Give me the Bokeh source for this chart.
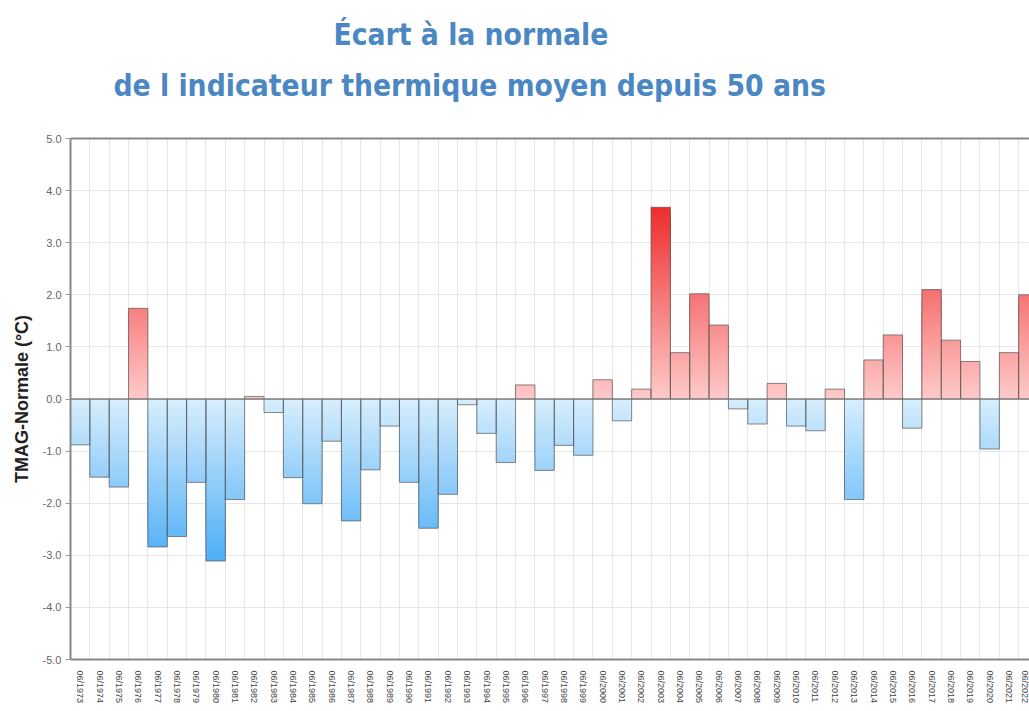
from bokeh.plotting import figure
from bokeh.models import FixedTicker, Title, Span, LinearAxis, Range1d
from bokeh.embed import file_html
from bokeh.resources import INLINE

# ---- data ----
years = list(range(1973, 2023))
tick_labels = [f"06/{y}" for y in years]
anomalies = [-0.88, -1.50, -1.69, 1.74, -2.84, -2.64, -1.60, -3.11, -1.93, 0.05,
             -0.26, -1.51, -2.01, -0.81, -2.34, -1.36, -0.52, -1.60, -2.48, -1.83,
             -0.11, -0.66, -1.22, 0.27, -1.37, -0.89, -1.08, 0.37, -0.42, 0.19,
             3.68, 0.89, 2.02, 1.42, -0.19, -0.48, 0.30, -0.52, -0.61, 0.19,
             -1.93, 0.75, 1.23, -0.56, 2.10, 1.13, 0.72, -0.96, 0.89, 2.00]
y_ticks = [-5, -4, -3, -2, -1, 0, 1, 2, 3, 4, 5]
title_line1 = "Écart à la normale"
title_line2 = "de l indicateur thermique moyen depuis 50 ans"
y_label = "TMAG-Normale (°C)"

# ---- colours ----
RED0, RED1, RMAX = (255, 202, 202), (238, 44, 44), 3.7
BLU0, BLU1, BMAX = (216, 238, 253), (78, 174, 246), 3.1


def mix(c0, c1, t):
    t = max(0.0, min(1.0, t))
    return "#%02x%02x%02x" % tuple(int(round(a + (b - a) * t)) for a, b in zip(c0, c1))


def grad_color(y):
    if y >= 0:
        return mix(RED0, RED1, y / RMAX)
    return mix(BLU0, BLU1, -y / BMAX)


STEP = 0.04
L, R, B, T, C = [], [], [], [], []
for i, v in enumerate(anomalies):
    n = max(1, int(round(abs(v) / STEP)))
    for k in range(n, 0, -1):
        top = v * k / n
        L.append(i); R.append(i + 1)
        B.append(min(0, top)); T.append(max(0, top))
        C.append(grad_color(v * (k - 0.5) / n))

W, H = 1029, 711
p = figure(width=W, height=H, x_range=Range1d(0, 49.56), y_range=Range1d(-5, 5),
           output_backend="svg", toolbar_location=None,
           min_border_left=70, min_border_right=0, min_border_top=137, min_border_bottom=52)
p.outline_line_color = None
p.background_fill_color = "white"

# grid
p.xgrid.ticker = FixedTicker(ticks=list(range(0, len(years) + 1)))
p.xgrid.grid_line_color = "#e6e6e6"
p.ygrid.ticker = FixedTicker(ticks=y_ticks)
p.ygrid.grid_line_color = "#e6e6e6"

# bars (gradient slices) + outline
p.quad(left=L, right=R, bottom=B, top=T, fill_color=C, line_color=None)
p.quad(left=list(range(len(anomalies))), right=[i + 1 for i in range(len(anomalies))],
       bottom=[min(0, v) for v in anomalies], top=[max(0, v) for v in anomalies],
       fill_color=None, line_color="#555555", line_alpha=0.7, line_width=1)

p.add_layout(Span(location=0, dimension="width", line_color="#777777", line_width=1))

# axes
p.yaxis.ticker = FixedTicker(ticks=y_ticks)
p.yaxis.major_label_overrides = {t: f"{t:.1f}" for t in y_ticks}
p.yaxis.major_label_text_font = "Liberation Sans"
p.yaxis.major_label_text_font_size = "11px"
p.yaxis.major_label_text_color = "#666666"
p.yaxis.axis_line_color = "#888888"
p.yaxis.axis_line_width = 2
p.yaxis.major_tick_line_color = "#999999"
p.yaxis.major_tick_in = 0
p.yaxis.major_tick_out = 5
p.yaxis.minor_tick_line_color = None
p.yaxis.major_label_standoff = 4
p.yaxis.axis_label = y_label
p.yaxis.axis_label_text_font = "Liberation Sans"
p.yaxis.axis_label_text_font_style = "bold"
p.yaxis.axis_label_text_font_size = "18px"
p.yaxis.axis_label_text_color = "#222222"
p.yaxis.axis_label_standoff = 8

xt = [i + 0.5 for i in range(len(years))]
p.xaxis.ticker = FixedTicker(ticks=xt)
p.xaxis.major_label_overrides = {t: lab for t, lab in zip(xt, tick_labels)}
p.xaxis.major_label_orientation = "vertical"
p.xaxis.major_label_text_font = "Liberation Sans"
p.xaxis.major_label_text_font_size = "9px"
p.xaxis.major_label_text_color = "#444444"
p.xaxis.axis_line_color = "#888888"
p.xaxis.axis_line_width = 2
p.xaxis.major_tick_line_color = None
p.xaxis.minor_tick_line_color = None
p.xaxis.major_label_standoff = 5

# top frame line; its (invisible) ticks also provide the gap below the titles
top_axis = LinearAxis(axis_line_color="#888888", axis_line_width=2,
                      major_tick_line_color=None, minor_tick_line_color=None,
                      major_tick_in=0, major_tick_out=36, minor_tick_out=0,
                      major_label_text_font_size="0px", major_label_text_color=None)
p.add_layout(top_axis, "above")

# titles
font = "'Liberation Sans Narrow', 'DejaVu Sans Condensed', Roboto, sans-serif"
p.add_layout(Title(text=title_line2, align="left", offset=43, vertical_align="bottom",
                   standoff=0, text_font=font, text_font_style="bold",
                   text_font_size="29.7px", text_color="#4a87c3"), "above")
p.add_layout(Title(text=title_line1, align="left", offset=263, vertical_align="bottom",
                   standoff=28, text_font=font, text_font_style="bold",
                   text_font_size="29.7px", text_color="#4a87c3"), "above")

open("out.html", "w").write(file_html(p, INLINE))
